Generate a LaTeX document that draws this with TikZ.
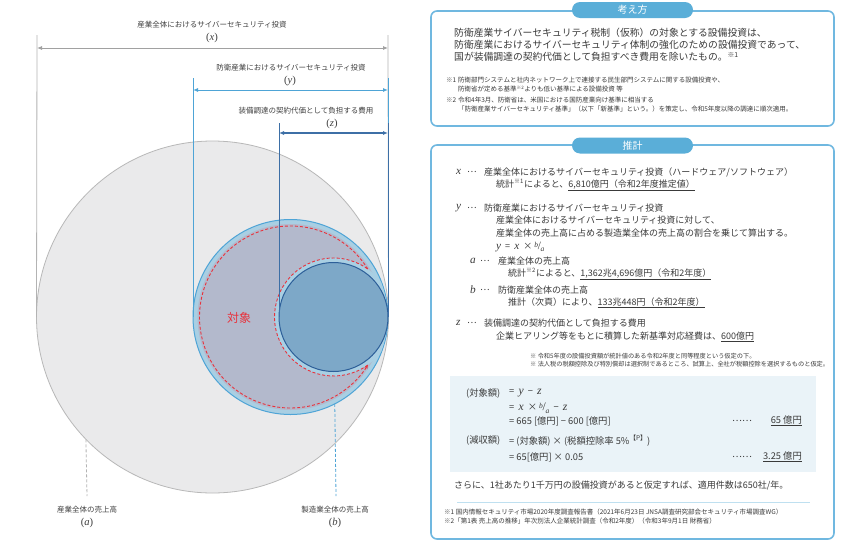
\documentclass[tikz,border=0pt]{standalone}
\usepackage{fontspec}
\setmainfont{Noto Sans CJK JP}
\newfontfamily\serifit{Liberation Serif}[Scale=1.25]
\newcommand{\mv}[1]{{\serifit\itshape #1}}
\newcommand{\pv}[1]{{\serifit(\textit{#1})}}
\newcommand{\bovera}{\raisebox{0.55ex}{\fontsize{6}{6}\selectfont\mv{b}}\kern-0.3pt{\serifit/}\kern-0.3pt\raisebox{-0.45ex}{\fontsize{6}{6}\selectfont\mv{a}}}
\usetikzlibrary{arrows.meta}
\definecolor{gline}{HTML}{B3B3B3}
\definecolor{bigfill}{HTML}{EAEAEB}
\definecolor{bigline}{HTML}{B8B8B8}
\definecolor{lblue}{HTML}{4EA4D6}
\definecolor{ringfill}{HTML}{A9CFE3}
\definecolor{purfill}{HTML}{B3B9CC}
\definecolor{smfill}{HTML}{7DA8C8}
\definecolor{smline}{HTML}{2D5F99}
\definecolor{dblue}{HTML}{3D6FA6}
\definecolor{redd}{HTML}{E8323C}
\definecolor{boxc}{HTML}{70B8E0}
\definecolor{pillc}{HTML}{5AAED8}
\definecolor{fboxc}{HTML}{EAF3F8}
\definecolor{txtc}{HTML}{3A3A3A}
\definecolor{labc}{HTML}{404040}
\definecolor{sepc}{HTML}{BFE0F0}
\begin{document}
\begin{tikzpicture}[x=1pt,y=-1pt,
  tip/.style={{Latex[length=5pt,width=4pt]}-{Latex[length=5pt,width=4pt]}},
  gl/.style={draw=gline,line width=0.8pt},
  bl/.style={draw=lblue,line width=0.8pt},
  dl/.style={draw=dblue,line width=0.8pt},
  lab/.style={inner sep=0pt,text=labc,font=\fontsize{7.5}{9}\selectfont},
  mlab/.style={inner sep=0pt,text=labc,font=\fontsize{8.5}{10}\selectfont},
  reddash/.style={draw=redd,line width=0.9pt,dash pattern=on 3pt off 2pt},
  t/.style={inner sep=0pt,anchor=west,text=txtc},
  big/.style={t,font=\fontsize{9.8}{12}\selectfont},
  mid/.style={t,font=\fontsize{9}{11}\selectfont},
  sml/.style={t,font=\fontsize{6.5}{8}\selectfont},
  fml/.style={t,font=\fontsize{9.3}{11}\selectfont},
  boxframe/.style={draw=boxc,line width=1.6pt,rounded corners=6pt,inner sep=0pt},
  pill/.style={fill=pillc,rounded corners=8pt,minimum width=121pt,minimum height=16pt,text=white,font=\fontsize{10}{11}\selectfont,inner sep=0pt}
]
\useasboundingbox (0,0) rectangle (843,541);
\fill[white] (0,0) rectangle (843,541);

% ---------- left diagram ----------
\node[circle,draw=bigline,fill=bigfill,line width=0.8pt,minimum size=352pt,inner sep=0pt,outer sep=0pt] (bigc) at (212.5,317) {};
\node[circle,draw=lblue,fill=ringfill,line width=1pt,minimum size=195pt,inner sep=0pt,outer sep=0pt] (midc) at (290.5,317) {};
\begin{scope}
  \clip (290.5,317) circle[radius=97];
  \fill[purfill] (290.5,317) circle[radius=93];
  \fill[ringfill] (333.5,317) circle[radius=59];
\end{scope}
\node[circle,draw=smline,fill=smfill,line width=1pt,minimum size=109pt,inner sep=0pt,outer sep=0pt] (smc) at (333.5,317) {};

% red dashed crescent (upright scope: screen (px,py) -> (px,-py))
\begin{scope}[y=1pt]
  \draw[reddash,-{Stealth[length=4pt,width=3.5pt]}] (290.5,-317) ++(31.8:91) arc[start angle=31.8,end angle=328.2,radius=91];
  \draw[reddash] (333.5,-317) ++(305.5:59) arc[start angle=305.5,end angle=54.5,radius=59];
\end{scope}
\node[inner sep=0pt,text=redd,font=\fontsize{12}{13}\selectfont] (taisho) at (239,318) {対象};

% x dimension
\coordinate (xt1) at (37,35); \coordinate (xt2) at (388,35);
\coordinate (xa1) at (37,48); \coordinate (xa2) at (388,48);
\draw[gl] (xt1) -- (bigc.west);
\draw[gl] (xt2) -- (bigc.east);
\draw[gl,draw=gline!90!black,tip] (xa1) -- (xa2);
\node[lab] (xlab) at (212,25) {産業全体におけるサイバーセキュリティ投資};
\node[mlab] (xsym) at (212,38) {\pv{x}};

% y dimension
\coordinate (yt1) at (193,78); \coordinate (yt2) at (388,78);
\coordinate (ya1) at (193,90); \coordinate (ya2) at (388,90);
\draw[bl] (yt1) -- (midc.west);
\draw[bl] (yt2) -- (midc.east);
\draw[bl,line width=1pt,tip] (ya1) -- (ya2);
\node[lab] (ylab) at (291,68) {防衛産業におけるサイバーセキュリティ投資};
\node[mlab] (ysym) at (290,81) {\pv{y}};

% z dimension
\coordinate (zt1) at (279,123); \coordinate (zt2) at (388,123);
\coordinate (za1) at (279,133); \coordinate (za2) at (388,133);
\draw[dl] (zt1) -- (smc.west);
\draw[dl] (zt2) -- (smc.east);
\draw[dl,line width=1.2pt,tip] (za1) -- (za2);
\node[lab] (zlab) at (306,111) {装備調達の契約代価として負担する費用};
\node[mlab] (zsym) at (332,124) {\pv{z}};

% a, b dashed
\coordinate (aend) at (87,496);
\coordinate (bend) at (336,496);
\draw[gline,line width=0.8pt,dash pattern=on 3pt off 2pt] (bigc.224.5) -- (aend);
\draw[lblue,line width=0.8pt,dash pattern=on 3pt off 2pt] (midc.297.8) -- (bend);
\node[lab] (alab) at (87,510) {産業全体の売上高};
\node[mlab] (asym) at (87,523) {\pv{a}};
\node[lab] (blab) at (335,510) {製造業全体の売上高};
\node[mlab] (bsym) at (335,523) {\pv{b}};

% ---------- right: box 1 ----------
\node[boxframe,minimum width=403pt,minimum height=115pt] (box1) at (632.5,68.5) {};
\node[pill] (h1) at (632.5,10) {考え方};
\node[big] (k1) at (454,33) {防衛産業サイバーセキュリティ税制（仮称）の対象とする設備投資は、};
\node[big] (k2) at (454,45) {防衛産業におけるサイバーセキュリティ体制の強化のための設備投資であって、};
\node[big] (k3) at (454,57) {国が装備調達の契約代価として負担すべき費用を除いたもの。\textsuperscript{※1}};
\node[sml] (n1a) at (446,80) {※1};
\node[sml] (n1b) at (458,80) {防衛部門システムと社内ネットワーク上で連接する民生部門システムに関する設備投資や、};
\node[sml] (n1c) at (458,89) {防衛省が定める基準\textsuperscript{※2}よりも低い基準による設備投資\ 等};
\node[sml] (n2a) at (446,100) {※2};
\node[sml] (n2b) at (458,100) {令和4年3月、防衛省は、米国における国防産業向け基準に相当する};
\node[sml] (n2c) at (458,109) {「防衛産業サイバーセキュリティ基準」（以下「新基準」という。）を策定し、令和5年度以降の調達に順次適用。};

% ---------- right: box 2 ----------
\node[boxframe,minimum width=403pt,minimum height=394pt] (box2) at (632.5,342) {};
\node[pill] (h2) at (632.5,145.5) {推計};

\node[mid] (xs) at (456,172) {\mv{x}};
\node[mid] (xd) at (467,172) {…};
\node[mid] (x1) at (484,172) {産業全体におけるサイバーセキュリティ投資（ハードウェア/ソフトウェア）};
\node[mid] (x2) at (496,185) {統計\textsuperscript{※1}によると、\underline{6,810億円（令和2年度推定値）}};

\node[mid] (ys) at (456,208) {\mv{y}};
\node[mid] (yd) at (467,208) {…};
\node[mid] (y1) at (484,208) {防衛産業におけるサイバーセキュリティ投資};
\node[mid] (y2) at (496,220) {産業全体におけるサイバーセキュリティ投資に対して、};
\node[mid] (y3) at (496,233) {産業全体の売上高に占める製造業全体の売上高の割合を乗じて算出する。};
\node[mid] (y4) at (496,247) {\mv{y}\ \ =\ \ \mv{x}\ \ ×\ \bovera};

\node[mid] (as) at (470,261) {\mv{a}};
\node[mid] (ad) at (480,261) {…};
\node[mid] (a1) at (498,261) {産業全体の売上高};
\node[mid] (a2) at (508,274) {統計\textsuperscript{※2}によると、\underline{1,362兆4,696億円（令和2年度）}};

\node[mid] (bs) at (470,290) {\mv{b}};
\node[mid] (bd) at (480,290) {…};
\node[mid] (b1) at (498,290) {防衛産業全体の売上高};
\node[mid] (b2) at (508,303) {推計（次頁）により、\underline{133兆448円（令和2年度）}};

\node[mid] (zs) at (456,323) {\mv{z}};
\node[mid] (zd) at (467,323) {…};
\node[mid] (z1) at (484,323) {装備調達の契約代価として負担する費用};
\node[mid] (z2) at (496,337) {企業ヒアリング等をもとに積算した新基準対応経費は、\underline{600億円}};

\node[t,font=\fontsize{6.2}{7}\selectfont] (m1) at (530,356) {※\ 令和5年度の設備投資額が統計値のある令和2年度と同等程度という仮定の下。};
\node[t,font=\fontsize{6.2}{7}\selectfont] (m2) at (530,364) {※\ 法人税の税額控除及び特別償却は選択制であるところ、試算上、全社が税額控除を選択するものと仮定。};

% formula box
\node[fill=fboxc,minimum width=366pt,minimum height=96pt,inner sep=0pt] (fb) at (633,424) {};
\node[fml] (f1a) at (466,393) {(対象額)};
\node[fml] (f1b) at (509,393) {=\ \ \mv{y}\ \ −\ \ \mv{z}};
\node[fml] (f2) at (509,408) {=\ \ \mv{x}\ \ ×\ \bovera\ \ −\ \ \mv{z}};
\node[fml] (f3) at (509,421) {=\ 665 [億円]\ −\ 600 [億円]};
\node[fml,anchor=center] (f3d) at (742,421) {……};
\node[fml,anchor=east] (f3r) at (802,421) {\underline{65 億円}};
\node[fml] (f4a) at (466,441) {(減収額)};
\node[fml] (f4b) at (509,441) {=\ (対象額)\ ×\ (税額控除率 5\%\textsuperscript{【P】})};
\node[fml] (f5) at (509,457) {=\ 65[億円]\ ×\ 0.05};
\node[fml,anchor=center] (f5d) at (742,457) {……};
\node[fml,anchor=east] (f5r) at (802,457) {\underline{3.25 億円}};

\node[t,font=\fontsize{9}{10}\selectfont] (sr) at (454,485) {さらに、1社あたり1千万円の設備投資があると仮定すれば、適用件数は650社/年。};
\coordinate (sp1) at (457,502); \coordinate (sp2) at (810,502);
\draw[sepc,line width=0.8pt] (sp1) -- (sp2);
\node[sml] (fn1) at (444,512) {※1\ 国内情報セキュリティ市場2020年度調査報告書（2021年6月23日 JNSA調査研究部会セキュリティ市場調査WG）};
\node[sml] (fn2) at (444,521) {※2「第1表 売上高の推移」年次別法人企業統計調査（令和2年度）（令和3年9月1日 財務省）};
\end{tikzpicture}
\end{document}
